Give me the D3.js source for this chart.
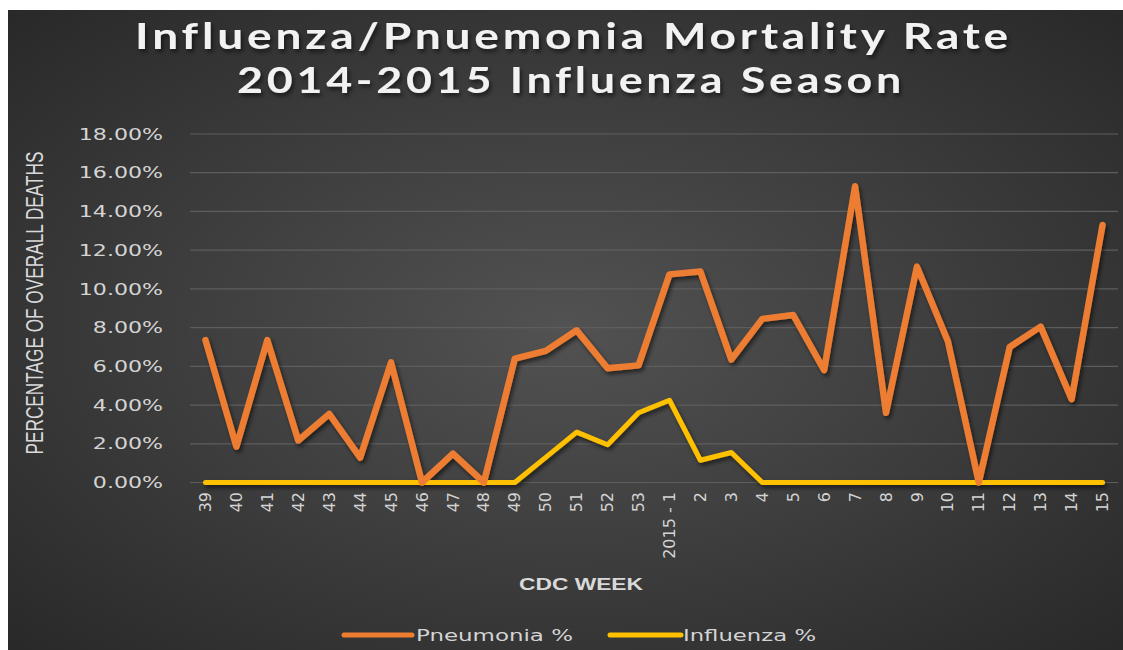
<!DOCTYPE html>
<html>
<head>
<meta charset="utf-8">
<script src="https://cdn.jsdelivr.net/npm/d3@7"></script>
<style>
  body { margin: 0; background: #fff; }
  svg { display: block; }
</style>
</head>
<body>
<div id="vis"></div>
<script>
const weeks = ["39", "40", "41", "42", "43", "44", "45", "46", "47", "48", "49", "50", "51", "52", "53",
  "2015 - 1", "2", "3", "4", "5", "6", "7", "8", "9", "10", "11", "12", "13", "14", "15"];
const pneumonia = [7.35, 1.85, 7.35, 2.17, 3.54, 1.28, 6.2, 0, 1.49, 0, 6.4, 6.8, 7.86, 5.9, 6.05,
  10.75, 10.9, 6.35, 8.45, 8.65, 5.8, 15.3, 3.6, 11.15, 7.3, 0, 7.0, 8.05, 4.3, 13.3];
const influenza = [0, 0, 0, 0, 0, 0, 0, 0, 0, 0, 0, 1.3, 2.6, 1.95, 3.6,
  4.25, 1.15, 1.55, 0, 0, 0, 0, 0, 0, 0, 0, 0, 0, 0, 0];
const yTicks = [0, 2, 4, 6, 8, 10, 12, 14, 16, 18];
const seriesNames = ["Pneumonia %", "Influenza %"];
const seriesColors = ["#ED7D31", "#FFC000"];

const W = 1123, H = 650;
const plot = { left: 190, right: 1118, top: 134, bottom: 482.5 };

const svg = d3.select("#vis").append("svg").attr("width", W).attr("height", H);
const defs = svg.append("defs");

const grad = defs.append("radialGradient").attr("id", "bg")
  .attr("cx", "50%").attr("cy", "50%").attr("r", "70%");
grad.append("stop").attr("offset", "0%").attr("stop-color", "#525252");
grad.append("stop").attr("offset", "100%").attr("stop-color", "#292929");

const shadow = defs.append("filter").attr("id", "shadow")
  .attr("x", "-10%").attr("y", "-10%").attr("width", "120%").attr("height", "130%");
shadow.append("feDropShadow").attr("dx", 2).attr("dy", 3)
  .attr("stdDeviation", 2).attr("flood-color", "#000").attr("flood-opacity", 0.55);

svg.append("rect").attr("x", 8).attr("y", 10).attr("width", W - 8).attr("height", H - 10)
  .attr("fill", "url(#bg)");

// title
const title = svg.append("g").attr("filter", "url(#shadow)")
  .style("font-family", "Lato, 'Open Sans', sans-serif").style("font-weight", 700)
  .style("font-size", "36px").style("letter-spacing", "3px").attr("fill", "#f2f2f2");
title.append("text").attr("x", 135).attr("y", 49).attr("textLength", 877)
  .attr("lengthAdjust", "spacingAndGlyphs").text("Influenza/Pnuemonia Mortality Rate");
title.append("text").attr("x", 237).attr("y", 93).attr("textLength", 668)
  .attr("lengthAdjust", "spacingAndGlyphs").text("2014-2015 Influenza Season");

const xScale = d3.scaleBand().domain(weeks).range([plot.left, plot.right]);
const yScale = d3.scaleLinear().domain([0, 18]).range([plot.bottom, plot.top]);
const xc = (d) => xScale(d) + xScale.bandwidth() / 2;

// gridlines
svg.append("g").selectAll("line").data(yTicks).join("line")
  .attr("x1", plot.left).attr("x2", plot.right)
  .attr("y1", (d) => yScale(d)).attr("y2", (d) => yScale(d))
  .attr("stroke", "#5e5e5e").attr("stroke-width", 1.2);

// y axis
const yAxis = svg.append("g").attr("transform", `translate(${163},0)`)
  .call(d3.axisLeft(yScale).tickValues(yTicks).tickSize(0).tickPadding(0)
    .tickFormat((d) => d.toFixed(2) + "%"));
yAxis.select(".domain").remove();
yAxis.selectAll("text")
  .style("font-family", "'DejaVu Sans', sans-serif").style("font-size", "16px")
  .attr("fill", "#d4d4d4")
  .each(function () {
    d3.select(this).attr("textLength", this.getComputedTextLength() * 1.38)
      .attr("lengthAdjust", "spacingAndGlyphs");
  });

// x axis
const xAxis = svg.append("g").attr("transform", `translate(0,${492})`)
  .call(d3.axisBottom(xScale).tickSize(0).tickPadding(0));
xAxis.select(".domain").remove();
xAxis.selectAll("text")
  .style("font-family", "'DejaVu Sans', sans-serif").style("font-size", "16px")
  .attr("fill", "#d4d4d4")
  .attr("text-anchor", "end")
  .attr("transform", "rotate(-90)")
  .attr("x", 0).attr("y", 0).attr("dy", "0.35em");

// axis titles
svg.append("text")
  .attr("transform", `translate(${43},${303}) rotate(-90)`)
  .attr("text-anchor", "middle")
  .attr("textLength", 303).attr("lengthAdjust", "spacingAndGlyphs")
  .style("font-family", "'Liberation Sans', sans-serif").style("font-weight", 400)
  .style("font-size", "23px").attr("fill", "#d9d9d9")
  .text("PERCENTAGE OF OVERALL DEATHS");

svg.append("text")
  .attr("x", 519).attr("y", 590)
  .attr("textLength", 124).attr("lengthAdjust", "spacingAndGlyphs")
  .style("font-family", "'Liberation Sans', sans-serif").style("font-weight", 700)
  .style("font-size", "17px").attr("fill", "#d9d9d9")
  .text("CDC WEEK");

// lines
const line = d3.line().x((d) => xc(d[0])).y((d) => yScale(d[1]));
const series = [pneumonia, influenza];
svg.append("g").attr("filter", "url(#shadow)")
  .selectAll("path").data([1, 0]).join("path")
  .attr("d", (i) => line(weeks.map((w, j) => [w, series[i][j]])))
  .attr("fill", "none")
  .attr("stroke", (i) => seriesColors[i])
  .attr("stroke-width", (i) => (i === 0 ? 6.5 : 5))
  .attr("stroke-linejoin", "round")
  .attr("stroke-linecap", "round");

// legend
const legendPos = [
  { x1: 344, x2: 412, tx: 416, tl: 157 },
  { x1: 610, x2: 681, tx: 683, tl: 133 },
];
const legend = svg.append("g").selectAll("g").data(seriesNames).join("g");
legend.append("line")
  .attr("x1", (d, i) => legendPos[i].x1).attr("x2", (d, i) => legendPos[i].x2)
  .attr("y1", 635).attr("y2", 635)
  .attr("stroke", (d, i) => seriesColors[i]).attr("stroke-width", 5)
  .attr("stroke-linecap", "round");
legend.append("text")
  .attr("x", (d, i) => legendPos[i].tx).attr("y", 641)
  .attr("textLength", (d, i) => legendPos[i].tl).attr("lengthAdjust", "spacingAndGlyphs")
  .style("font-family", "'DejaVu Sans', sans-serif").style("font-size", "16px")
  .attr("fill", "#d4d4d4")
  .text((d) => d);
</script>
</body>
</html>
